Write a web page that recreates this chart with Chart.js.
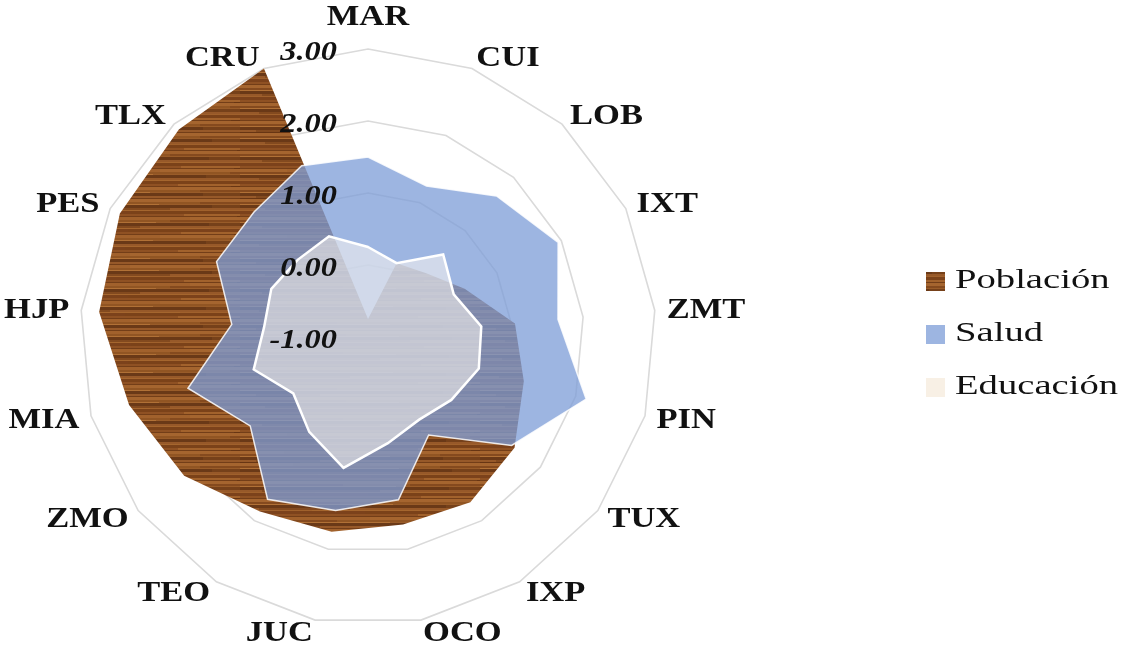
<!DOCTYPE html>
<html>
<head>
<meta charset="utf-8">
<script src="https://cdn.jsdelivr.net/npm/chart.js@4.4.1/dist/chart.umd.min.js"></script>
<style>
  html, body { margin: 0; padding: 0; background: #fff; }
  #wrap { position: relative; width: 1124px; height: 649px; }
</style>
</head>
<body>
<div id="wrap"><canvas id="radar" width="1124" height="649"></canvas></div>
<script>
// Data
const labels = ['MAR', 'CUI', 'LOB', 'IXT', 'ZMT', 'PIN', 'TUX', 'IXP', 'OCO', 'JUC', 'TEO', 'ZMO', 'MIA', 'HJP', 'PES', 'TLX', 'CRU'];
const poblacion = [-0.75, 0.10, 0.20, 0.50, 1.05, 1.25, 1.55, 1.70, 1.65, 1.75, 1.85, 2.20, 2.45, 2.75, 2.85, 2.90, 3.00];
const salud = [1.50, 1.25, 1.65, 1.95, 1.65, 2.15, 1.50, 0.60, 1.30, 1.45, 1.65, 1.05, 1.60, 0.90, 1.35, 1.35, 1.55];
const educacion = [0.25, 0.10, 0.55, 0.33, 0.58, 0.60, 0.45, 0.35, 0.50, 0.85, 0.55, 0.30, 0.65, 0.45, 0.50, 0.45, 0.50];
const seriesNames = ['Población', 'Salud', 'Educación'];
const tickMin = -1;
const tickMax = 3;

const canvas = document.getElementById('radar');
const ctx = canvas.getContext('2d');

// wood-like texture for the Población fill
function makeWood() {
    const c = document.createElement('canvas');
    c.width = 240;
    c.height = 66;
    const g = c.getContext('2d');
    g.fillStyle = '#93552a';
    g.fillRect(0, 0, c.width, c.height);
    const tones = ['#5e2e0e', '#b06f34', '#7b4318', '#c5843f', '#4f260b', '#9a5c29', '#a8692f', '#6c3612', '#8c4f20'];
    let y = 0, k = 0;
    while (y < c.height) {
        const h = 1 + (k * 5) % 3;
        g.globalAlpha = 0.6;
        g.fillStyle = tones[k % tones.length];
        g.fillRect(0, y, c.width, h);
        // grain breaks along the row
        g.globalAlpha = 0.35;
        g.fillStyle = tones[(k + 4) % tones.length];
        const x0 = (k * 53) % c.width;
        g.fillRect(x0, y, 60 + (k * 17) % 90, h);
        y += h;
        k++;
    }
    g.globalAlpha = 1;
    return ctx.createPattern(c, 'repeat');
}

const woodFill = makeWood();
const saludFill = 'rgba(126, 158, 216, 0.76)';
const eduFill = 'rgba(250, 246, 240, 0.56)';
const legendFills = [woodFill, saludFill, 'rgba(247, 238, 226, 0.9)'];

function drawStretched(c, text, x, y, sx) {
    c.save();
    c.translate(x, y);
    c.scale(sx, 1);
    c.fillText(text, 0, 0);
    c.restore();
}

const excelText = {
    id: 'excelText',
    afterDatasetsDraw(chart) {
        const r = chart.scales.r;
        const c = chart.ctx;
        c.save();
        c.fillStyle = '#111';

        // radial tick labels, left of the vertical axis
        c.font = 'italic bold 27px "Liberation Serif", "Times New Roman", serif';
        c.textAlign = 'right';
        c.textBaseline = 'middle';
        r.ticks.forEach(t => {
            const y = r.yCenter - r.getDistanceFromCenterForValue(t.value);
            drawStretched(c, t.value.toFixed(2), r.xCenter - 31, y + 4, 1.2);
        });

        // category labels
        c.font = 'bold 30px "Liberation Serif", "Times New Roman", serif';
        labels.forEach((lab, i) => {
            const p = r.getPointPosition(i, r.drawingArea + 12);
            const dx = p.x - r.xCenter;
            if (Math.abs(dx) < 4) {
                c.textAlign = 'center';
                c.textBaseline = 'alphabetic';
                const q = r.getPointPosition(i, r.drawingArea + 24);
                drawStretched(c, lab, q.x, q.y, 1.15);
            } else {
                c.textAlign = dx > 0 ? 'left' : 'right';
                c.textBaseline = 'middle';
                drawStretched(c, lab, p.x, p.y + 1, 1.15);
            }
        });

        // legend
        c.font = '28px "Liberation Serif", "Times New Roman", serif';
        c.textAlign = 'left';
        c.textBaseline = 'alphabetic';
        seriesNames.forEach((name, i) => {
            const base = 288 + i * 53;
            c.fillStyle = legendFills[i];
            c.fillRect(926, base - 16, 19, 19);
            c.fillStyle = '#111';
            drawStretched(c, name, 955, base, 1.38);
        });
        c.restore();
    }
};

new Chart(ctx, {
    type: 'radar',
    data: {
        labels: labels,
        datasets: [
            {
                label: seriesNames[0],
                data: poblacion,
                backgroundColor: woodFill,
                borderWidth: 0,
                fill: 'start',
                pointRadius: 0,
                order: 3
            },
            {
                label: seriesNames[1],
                data: salud,
                backgroundColor: saludFill,
                borderColor: 'rgba(255,255,255,0.85)',
                borderWidth: 1.5,
                fill: 'start',
                pointRadius: 0,
                order: 2
            },
            {
                label: seriesNames[2],
                data: educacion,
                backgroundColor: eduFill,
                borderColor: '#ffffff',
                borderWidth: 2.5,
                fill: 'start',
                pointRadius: 0,
                order: 1
            }
        ]
    },
    options: {
        responsive: false,
        animation: false,
        layout: { padding: { left: 80, right: 468, top: 49, bottom: 24 } },
        plugins: {
            legend: { display: false },
            tooltip: { enabled: false }
        },
        elements: { line: { tension: 0 } },
        scales: {
            r: {
                min: tickMin,
                max: tickMax,
                ticks: { stepSize: 1, display: false },
                grid: { color: '#dadada', lineWidth: 1.6 },
                angleLines: { display: false },
                pointLabels: { display: false }
            }
        }
    },
    plugins: [excelText]
});
</script>
</body>
</html>
